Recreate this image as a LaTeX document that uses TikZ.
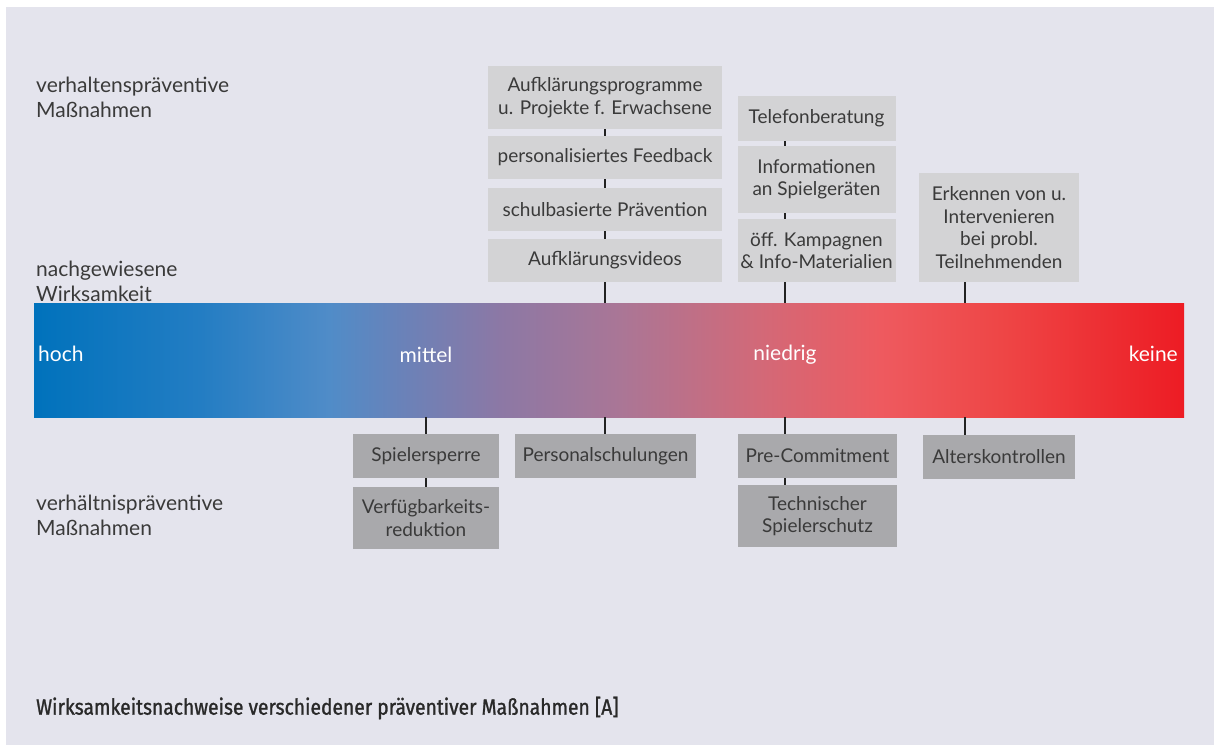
\documentclass[tikz,border=0pt]{standalone}
\usepackage{fontspec}
\setmainfont{Lato}
\newfontfamily\capfont[FakeStretch=0.875,FakeBold=1.2]{Fira Sans}
\definecolor{bg}{RGB}{228,228,237}
\definecolor{lightbox}{RGB}{211,211,213}
\definecolor{darkbox}{RGB}{169,169,172}
\definecolor{txt}{RGB}{58,58,58}
\definecolor{conn}{RGB}{34,34,34}
\pgfdeclarehorizontalshading{wbar}{100bp}{%
rgb(0bp)=(0,0.447,0.737);
rgb(25bp)=(0,0.447,0.737);
rgb(32.2bp)=(0.137,0.49,0.765);
rgb(37.85bp)=(0.314,0.549,0.784);
rgb(40.9bp)=(0.412,0.51,0.725);
rgb(45.25bp)=(0.549,0.471,0.647);
rgb(50.5bp)=(0.667,0.463,0.588);
rgb(56.5bp)=(0.824,0.412,0.471);
rgb(61.8bp)=(0.933,0.353,0.373);
rgb(67bp)=(0.933,0.275,0.275);
rgb(75bp)=(0.929,0.11,0.141);
rgb(100bp)=(0.929,0.11,0.141)}
\tikzset{
  lbox/.style={fill=lightbox, inner sep=0pt, align=center, text=txt,
    font=\fontsize{19}{22.5}\selectfont},
  dbox/.style={fill=darkbox, inner sep=0pt, align=center, text=txt,
    font=\fontsize{19}{22.5}\selectfont},
  sidelbl/.style={inner sep=0pt, align=left, text=txt, anchor=west,
    font=\fontsize{21}{25}\selectfont},
  barlbl/.style={inner sep=0pt, text=white, font=\fontsize{21}{22}\selectfont},
  link/.style={draw=conn, line width=2.8pt},
}
\begin{document}
\begin{tikzpicture}[x=1pt,y=-1pt]
\useasboundingbox (0,0) rectangle (1214,745);
\fill[white] (0,0) rectangle (1214,745);
\fill[bg] (6,7) rectangle (1214,745);

% bar
\path[shading=wbar] (34,303) rectangle (1184,417);
\coordinate (bartop605) at (605,303);
\coordinate (bartop785) at (785,303);
\coordinate (bartop965) at (965,303);
\coordinate (barbot426) at (426,417);
\coordinate (barbot605) at (605,417);
\coordinate (barbot785) at (785,417);
\coordinate (barbot965) at (965,417);

\node[barlbl, anchor=west] (hoch) at (38,354) {hoch};
\node[barlbl] (mittel) at (426,355) {mittel};
\node[barlbl] (niedrig) at (785,355) {niedrig};
\node[barlbl, anchor=east] (keine) at (1178,354) {keine};

% side labels
\node[sidelbl] (verhalten) at (36,97) {verhaltenspräventive\\Maßnahmen};
\node[sidelbl] (nachgew) at (36,281) {nachgewiesene\\Wirksamkeit};
\node[sidelbl] (verhaeltnis) at (36,515) {verhältnispräventive\\Maßnahmen};

% top column 1
\node[lbox, minimum width=234pt, minimum height=63pt] (a1) at (605,97.5) {Aufklärungsprogramme\\u. Projekte f. Erwachsene};
\node[lbox, minimum width=234pt, minimum height=43pt] (a2) at (605,157.5) {personalisiertes Feedback};
\node[lbox, minimum width=234pt, minimum height=43pt] (a3) at (605,209.5) {schulbasierte Prävention};
\node[lbox, minimum width=234pt, minimum height=43pt] (a4) at (605,260.5) {Aufklärungsvideos};

% top column 2
\node[lbox, minimum width=158pt, minimum height=45pt] (b1) at (816.5,118.5) {Telefonberatung};
\node[lbox, minimum width=158pt, minimum height=67pt] (b2) at (816.5,179.5) {Informationen\\an Spielgeräten};
\node[lbox, minimum width=158pt, minimum height=63pt] (b3) at (816.5,250.5) {öff. Kampagnen\\\& Info-Materialien};

% top column 3
\node[lbox, minimum width=160pt, minimum height=109pt] (c1) at (999,227.5) {Erkennen von u.\\Intervenieren\\bei probl.\\Teilnehmenden};

% bottom boxes
\node[dbox, minimum width=146pt, minimum height=44pt] (d1) at (426,456) {Spielersperre};
\node[dbox, minimum width=146pt, minimum height=62pt] (d2) at (426,518) {Verfügbarkeits-\\reduktion};
\node[dbox, minimum width=181pt, minimum height=44pt] (d3) at (605.5,456) {Personalschulungen};
\node[dbox, minimum width=159pt, minimum height=44pt] (e1) at (817.5,456) {Pre-Commitment};
\node[dbox, minimum width=159pt, minimum height=62pt] (e2) at (817.5,516) {Technischer\\Spielerschutz};
\node[dbox, minimum width=152pt, minimum height=44pt] (e3) at (999,457) {Alterskontrollen};

% connectors
\draw[link] (a1.south) -- (a2.north);
\draw[link] (a2.south) -- (a3.north);
\draw[link] (a3.south) -- (a4.north);
\draw[link] (a4.south) -- (bartop605);
\draw[link] (b1.south -| bartop785) -- (b2.north -| bartop785);
\draw[link] (b2.south -| bartop785) -- (b3.north -| bartop785);
\draw[link] (b3.south -| bartop785) -- (bartop785);
\draw[link] (c1.south -| bartop965) -- (bartop965);
\draw[link] (barbot426) -- (d1.north);
\draw[link] (d1.south) -- (d2.north);
\draw[link] (barbot605) -- (d3.north -| barbot605);
\draw[link] (barbot785) -- (e1.north -| barbot785);
\draw[link] (e1.south -| barbot785) -- (e2.north -| barbot785);
\draw[link] (barbot965) -- (e3.north -| barbot965);

% caption
\node[inner sep=0pt, anchor=west, text=txt!70!black, font=\capfont\fontsize{22}{24}\selectfont] (caption) at (36,708) {Wirksamkeitsnachweise verschiedener präventiver Maßnahmen [A]};
\end{tikzpicture}
\end{document}
